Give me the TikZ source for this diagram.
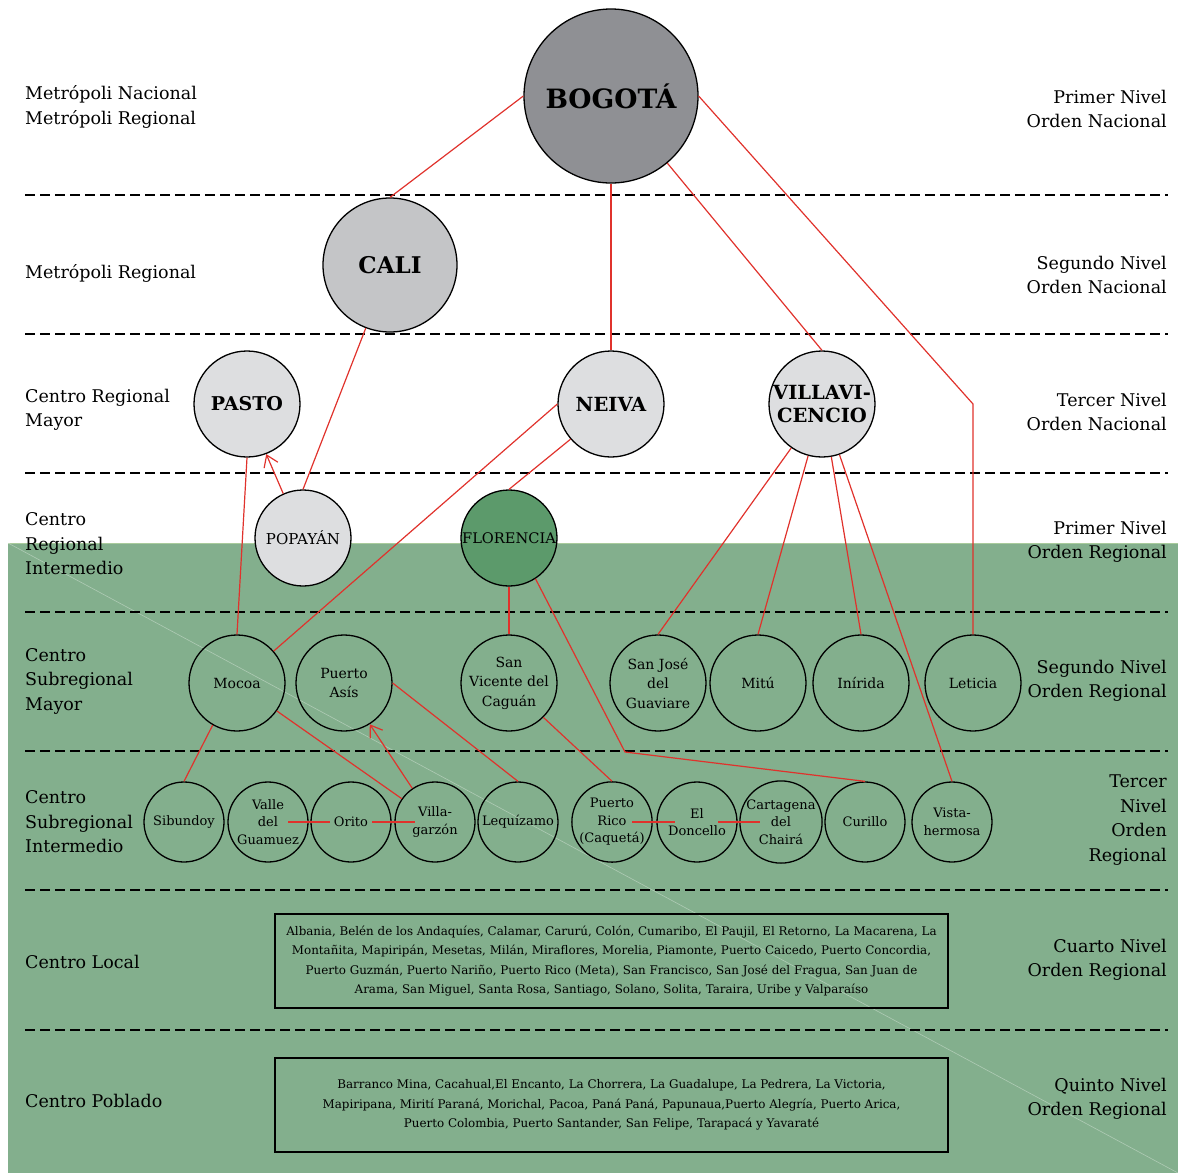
\documentclass[tikz,border=0pt]{standalone}
\usepackage{fontspec}
\setmainfont{DejaVu Serif}
\usetikzlibrary{arrows.meta}
\definecolor{verde}{HTML}{83AF8D}
\definecolor{verdeclaro}{HTML}{A9CB9C}
\definecolor{verdeosc}{HTML}{5C9A6B}
\definecolor{grisosc}{HTML}{8F9094}
\definecolor{grismed}{HTML}{C4C5C7}
\definecolor{grisclaro}{HTML}{DDDEE0}
\definecolor{rojo}{HTML}{E0322C}
\begin{document}
\begin{tikzpicture}[x=1pt,y=-1pt,>={Straight Barb[length=11pt,width=15pt]},
  ciudad/.style={circle,draw,line width=1.3pt,inner sep=0pt,align=center},
  enlace/.style={rojo,line width=1.2pt},
  nivel/.style={line width=1.4pt,dash pattern=on 10pt off 5pt},
  etiq/.style={inner sep=0pt,font=\fontsize{17.5}{24.5}\selectfont},
  caja/.style={draw,line width=1.4pt,minimum width=673,minimum height=94,align=center,
    font=\fontsize{11.9}{19.6}\selectfont}]
   \useasboundingbox (0,0) rectangle (1178,1173);
   % fondo
   \fill[verde] (8,543) rectangle (1178,1173);
   \draw[verdeclaro,line width=1pt] (8,543) -- (1178,543);
   \draw[white,opacity=.35,line width=.6pt] (8,543) -- (1178,1173);

   % lineas de nivel
   \foreach \y in {195,334,473,612,751,890,1030}
     \draw[nivel] (25,\y) -- (1168,\y);

   % etiquetas izquierda
   \node[etiq,anchor=west,align=left] (izq1) at (25,107) {Metrópoli Nacional\\Metrópoli Regional};
   \node[etiq,anchor=west,align=left] (izq2) at (25,273) {Metrópoli Regional};
   \node[etiq,anchor=west,align=left] (izq3) at (25,410) {Centro Regional\\Mayor};
   \node[etiq,anchor=west,align=left] (izq4) at (25,544) {Centro\\Regional\\Intermedio};
   \node[etiq,anchor=west,align=left] (izq5) at (25,681) {Centro\\Subregional\\Mayor};
   \node[etiq,anchor=west,align=left] (izq6) at (25,822) {Centro\\Subregional\\Intermedio};
   \node[etiq,anchor=west,align=left] (izq7) at (25,962) {Centro Local};
   \node[etiq,anchor=west,align=left] (izq8) at (25,1101) {Centro Poblado};

   % etiquetas derecha
   \node[etiq,anchor=east,align=right] (der1) at (1167,109) {Primer Nivel\\Orden Nacional};
   \node[etiq,anchor=east,align=right] (der2) at (1167,275) {Segundo Nivel\\Orden Nacional};
   \node[etiq,anchor=east,align=right] (der3) at (1167,412) {Tercer Nivel\\Orden Nacional};
   \node[etiq,anchor=east,align=right] (der4) at (1167,542) {Primer Nivel\\Orden Regional};
   \node[etiq,anchor=east,align=right] (der5) at (1167,681) {Segundo Nivel\\Orden Regional};
   \node[etiq,anchor=east,align=right] (der6) at (1167,820) {Tercer\\Nivel\\Orden\\Regional};
   \node[etiq,anchor=east,align=right] (der7) at (1167,960) {Cuarto Nivel\\Orden Regional};
   \node[etiq,anchor=east,align=right] (der8) at (1167,1099) {Quinto Nivel\\Orden Regional};

   % ciudades orden nacional
   \node[ciudad,fill=grisosc,minimum size=174,font=\bfseries\fontsize{26.6}{28}\selectfont] (bogota) at (611,96) {BOGOTÁ};
   \node[ciudad,fill=grismed,minimum size=134,font=\bfseries\fontsize{23}{24}\selectfont] (cali) at (390,265) {CALI};
   \node[ciudad,fill=grisclaro,minimum size=106,font=\bfseries\fontsize{19}{23}\selectfont] (pasto) at (247,404) {PASTO};
   \node[ciudad,fill=grisclaro,minimum size=106,font=\bfseries\fontsize{19.5}{23}\selectfont] (neiva) at (611,404) {NEIVA};
   \node[ciudad,fill=grisclaro,minimum size=106,font=\bfseries\fontsize{19.5}{23}\selectfont] (villa) at (822,404) {VILLAVI-\\CENCIO};

   % primer nivel regional
   \node[ciudad,fill=grisclaro,minimum size=96,font=\fontsize{15}{17}\selectfont] (popayan) at (303,538) {POPAYÁN};
   \node[ciudad,fill=verdeosc,minimum size=96,font=\fontsize{14.6}{17}\selectfont] (florencia) at (509,538) {FLORENCIA};

   % segundo nivel regional
   \begin{scope}[every node/.style={ciudad,minimum size=96,font=\fontsize{14}{19.5}\selectfont}]
   \node (mocoa) at (237,683) {Mocoa};
   \node (asis) at (344,683) {Puerto\\Asís};
   \node (sanvicente) at (509,683) {San\\Vicente del\\Caguán};
   \node (sanjose) at (658,683) {San José\\del\\Guaviare};
   \node (mitu) at (758,683) {Mitú};
   \node (inirida) at (861,683) {Inírida};
   \node (leticia) at (973,683) {Leticia};
   \end{scope}

   % tercer nivel regional
   \begin{scope}[every node/.style={ciudad,minimum size=80,font=\fontsize{13}{17.5}\selectfont}]
   \node (sibundoy) at (184,822) {Sibundoy};
   \node (valle) at (268,822) {Valle\\del\\Guamuez};
   \node (orito) at (351,822) {Orito};
   \node (villagarzon) at (435,822) {Villa-\\garzón};
   \node (lequizamo) at (518,822) {Lequízamo};
   \node (puertorico) at (612,822) {Puerto\\Rico\\(Caquetá)};
   \node (doncello) at (697,822) {El\\Doncello};
   \node (cartagena) at (781,822) {Cartagena\\del\\Chairá};
   \node (curillo) at (865,822) {Curillo};
   \node (vista) at (952,822) {Vista-\\hermosa};
   \end{scope}

   % centros locales y poblados
   \node[caja] (local) at (611.5,961) {Albania, Belén de los Andaquíes, Calamar, Carurú, Colón, Cumaribo, El Paujil, El Retorno, La Macarena, La\\
     Montañita, Mapiripán, Mesetas, Milán, Miraflores, Morelia, Piamonte, Puerto Caicedo, Puerto Concordia,\\
     Puerto Guzmán, Puerto Nariño, Puerto Rico (Meta), San Francisco, San José del Fragua, San Juan de\\
     Arama, San Miguel, Santa Rosa, Santiago, Solano, Solita, Taraira, Uribe y Valparaíso};
   \node[caja] (poblado) at (611.5,1105) {Barranco Mina, Cacahual,El Encanto, La Chorrera, La Guadalupe, La Pedrera, La Victoria,\\
     Mapiripana, Mirití Paraná, Morichal, Pacoa, Paná Paná, Papunaua,Puerto Alegría, Puerto Arica,\\
     Puerto Colombia, Puerto Santander, San Felipe, Tarapacá y Yavaraté};

   % enlaces
   \coordinate (codo1) at (973,404);
   \coordinate (codo2) at (625,752);
   \draw[enlace] (bogota.west) -- (cali.north);
   \draw[enlace] (bogota.south) -- (neiva.north);
   \draw[enlace] (bogota.-50) -- (villa.north);
   \draw[enlace] (bogota.east) -- (codo1) -- (leticia.north);
   \draw[enlace] (cali.-111) -- (popayan.north);
   \draw[enlace,->] (popayan.114) -- (pasto.-69);
   \draw[enlace] (pasto.south) -- (mocoa.north);
   \draw[enlace] (neiva.west) -- (mocoa);
   \draw[enlace] (neiva.-139) -- (florencia.north);
   \draw[enlace] (florencia.south) -- (sanvicente.north);
   \draw[enlace] (florencia.-57) -- (codo2) -- (curillo.north);
   \draw[enlace] (sanvicente.-45) -- (puertorico.north);
   \draw[enlace] (villa.-125) -- (sanjose.north);
   \draw[enlace] (villa.-105) -- (mitu.north);
   \draw[enlace] (villa.-80) -- (inirida.north);
   \draw[enlace] (villa.-71) -- (vista.north);
   \draw[enlace] (mocoa.-120) -- (sibundoy.north);
   \draw[enlace] (mocoa) -- (villagarzon);
   \draw[enlace,->] (villagarzon.124) -- (asis.-58);
   \draw[enlace] (asis.east) -- (lequizamo.north);
   % enlaces horizontales
   \draw[enlace] ([xshift=20]valle.center) -- ([xshift=-21]orito.center);
   \draw[enlace] ([xshift=21]orito.center) -- ([xshift=-20]villagarzon.center);
   \draw[enlace] ([xshift=20]puertorico.center) -- ([xshift=-22]doncello.center);
   \draw[enlace] ([xshift=21]doncello.center) -- ([xshift=-21]cartagena.center);
\end{tikzpicture}
\end{document}
